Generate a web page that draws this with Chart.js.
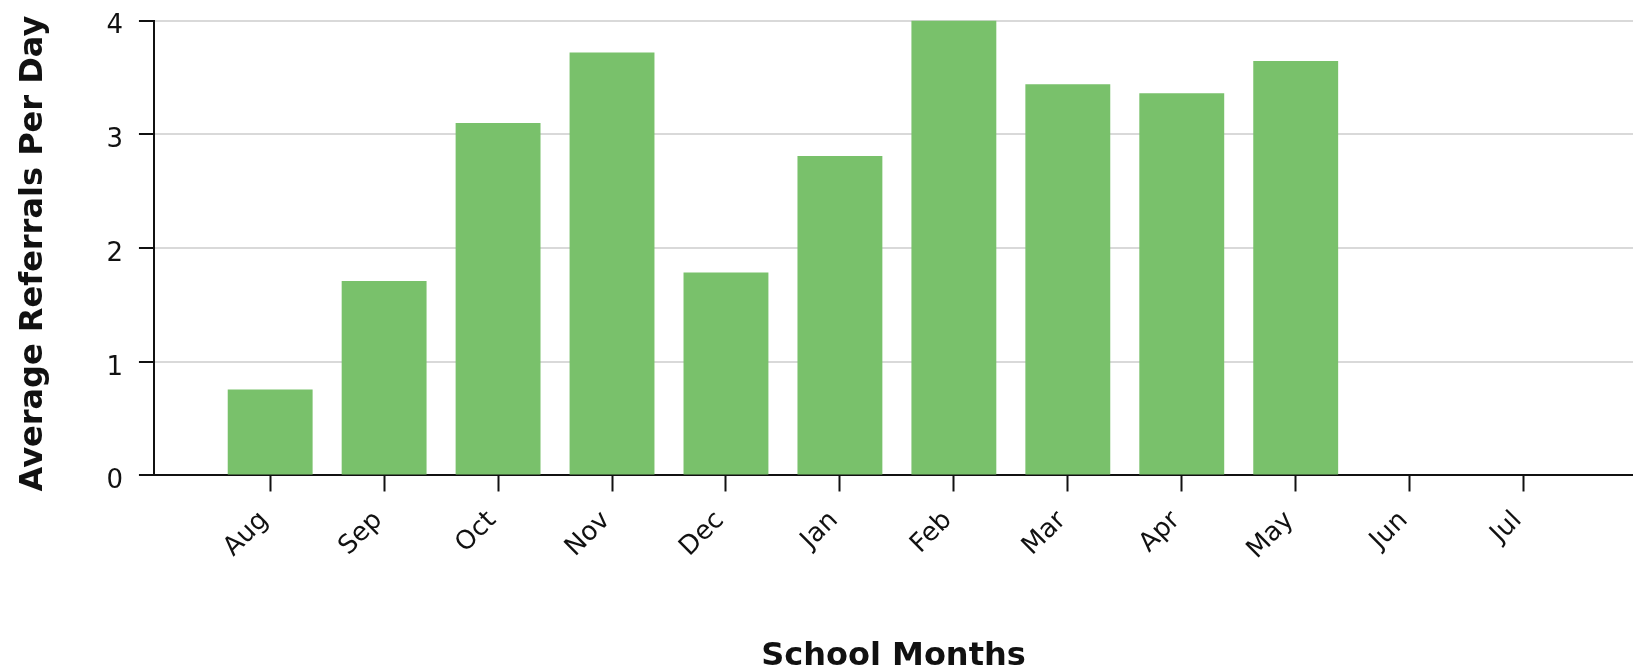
<!DOCTYPE html>
<html>
<head>
<meta charset="utf-8">
<script src="https://cdn.jsdelivr.net/npm/chart.js@4"></script>
<style>
  html, body { margin: 0; padding: 0; background: #ffffff; }
  #wrap { width: 1633px; height: 669px; position: relative; }
</style>
</head>
<body>
<div id="wrap"><canvas id="c" width="1633" height="669"></canvas></div>
<script>
const categories = ["Aug", "Sep", "Oct", "Nov", "Dec", "Jan", "Feb", "Mar", "Apr", "May", "Jun", "Jul"];
const referrals = [0.755, 1.71, 3.10, 3.72, 1.785, 2.81, 4.0, 3.44, 3.36, 3.645, null, null];
const yTicks = [0, 1, 2, 3, 4];
const xTitle = "School Months";
const yTitle = "Average Referrals Per Day";

const points = categories.map((c, i) => ({ x: i, y: referrals[i] }));

new Chart(document.getElementById('c'), {
  type: 'bar',
  data: {
    datasets: [{
      data: points,
      backgroundColor: '#79c16b',
      borderWidth: 0,
      barPercentage: 0.745,
      categoryPercentage: 1.0
    }]
  },
  options: {
    responsive: false,
    animation: false,
    layout: { padding: { top: 0, right: 0, left: 14, bottom: 0 } },
    plugins: { legend: { display: false }, tooltip: { enabled: false } },
    scales: {
      x: {
        type: 'linear',
        offset: false,
        min: -1.02,
        max: 11.96,
        afterBuildTicks: (scale) => { scale.ticks = categories.map((c, i) => ({ value: i })); },
        grid: { display: true, offset: false, drawOnChartArea: false, drawTicks: true, tickLength: 16, tickColor: '#111', tickWidth: 2 },
        border: { display: true, color: '#111', width: 2 },
        ticks: {
          autoSkip: false,
          maxRotation: 45,
          minRotation: 45,
          padding: 8,
          color: '#111',
          font: { family: 'DejaVu Sans', size: 26 },
          callback: (v) => categories[v] !== undefined ? categories[v] + ' ' : ''
        },
        title: {
          display: true,
          text: xTitle,
          color: '#111',
          font: { family: 'DejaVu Sans', size: 32, weight: 'bold', lineHeight: 0.8 },
          padding: { top: 70, bottom: 0 }
        }
      },
      y: {
        min: 0,
        max: 4,
        afterBuildTicks: (scale) => { scale.ticks = yTicks.map(v => ({ value: v })); },
        grid: { color: '#d9d9d9', lineWidth: 2, tickColor: '#111', tickLength: 15, tickWidth: 2 },
        border: { display: true, color: '#111', width: 2 },
        ticks: {
          color: '#111',
          padding: 16,
          labelOffset: 6,
          font: { family: 'DejaVu Sans', size: 26, lineHeight: 0.35 }
        },
        title: {
          display: true,
          text: yTitle + ' ',
          color: '#111',
          font: { family: 'DejaVu Sans', size: 32, weight: 'bold' },
          padding: { top: 0, bottom: 38 }
        }
      }
    }
  }
});
</script>
</body>
</html>
